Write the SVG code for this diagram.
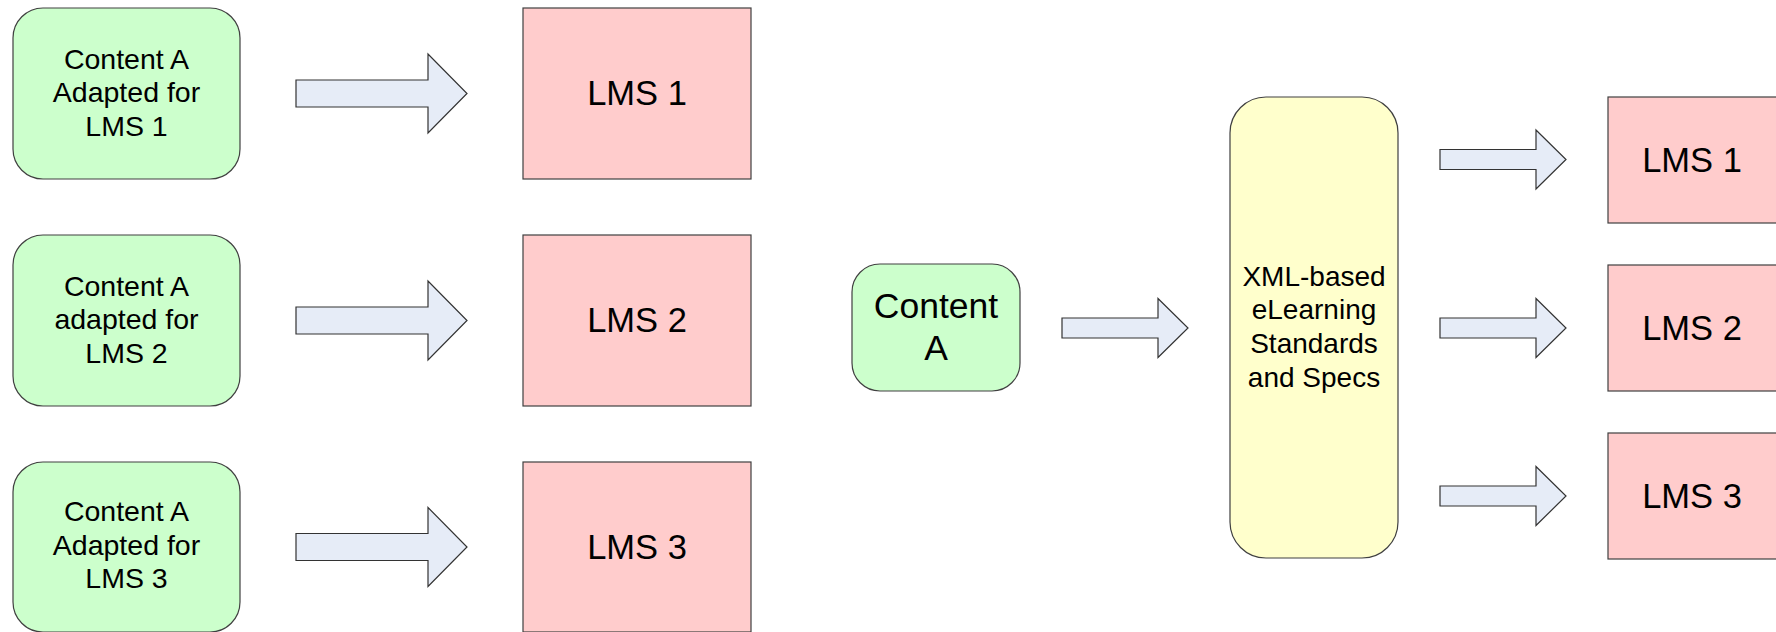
<svg xmlns="http://www.w3.org/2000/svg" xmlns:xlink="http://www.w3.org/1999/xlink" width="1776" height="632" viewBox="0 0 1776 632">
<style>
.green{fill:#CCFFCC;stroke:#404040;stroke-width:1.2}
.pink{fill:#FFCCCC;stroke:#404040;stroke-width:1.2}
.yellow{fill:#FFFFCC;stroke:#404040;stroke-width:1.2}
.arrow{fill:#E6ECF7;stroke:#333333;stroke-width:1.2;stroke-linejoin:miter}
text{font-family:"Liberation Sans",Arial,sans-serif;fill:#000;text-anchor:middle}
.t27{font-size:28.5px}
.t28{font-size:28px}
.t32{font-size:34.5px}
.t34{font-size:35.5px}
</style>
<defs>
<path id="bigArrow" d="M0,-13.5 H132 V-39.5 L171,0 L132,39.5 V13.5 H0 Z"/>
<path id="smallArrow" d="M0,-10 H96 V-29.5 L126,0 L96,29.5 V10 H0 Z"/>
</defs>
<rect width="1776" height="632" fill="#FFFFFF"/>
<g id="connectors">
<use xlink:href="#bigArrow" class="arrow" transform="translate(296,93.5)"/>
<use xlink:href="#bigArrow" class="arrow" transform="translate(296,320.5)"/>
<use xlink:href="#bigArrow" class="arrow" transform="translate(296,547)"/>
<use xlink:href="#smallArrow" class="arrow" transform="translate(1062,328)"/>
<use xlink:href="#smallArrow" class="arrow" transform="translate(1440,159.5)"/>
<use xlink:href="#smallArrow" class="arrow" transform="translate(1440,328)"/>
<use xlink:href="#smallArrow" class="arrow" transform="translate(1440,496)"/>
</g>
<g id="contentA1">
<rect class="green" x="13" y="8" width="227" height="171" rx="30" ry="30"/>
<text class="t27" x="126.5" y="68.5">Content A</text>
<text class="t27" x="126.5" y="102">Adapted for</text>
<text class="t27" x="126.5" y="135.5">LMS 1</text>
</g>
<g id="contentA2">
<rect class="green" x="13" y="235" width="227" height="171" rx="30" ry="30"/>
<text class="t27" x="126.5" y="295.5">Content A</text>
<text class="t27" x="126.5" y="329">adapted for</text>
<text class="t27" x="126.5" y="362.5">LMS 2</text>
</g>
<g id="contentA3">
<rect class="green" x="13" y="462" width="227" height="170" rx="30" ry="30"/>
<text class="t27" x="126.5" y="521">Content A</text>
<text class="t27" x="126.5" y="554.5">Adapted for</text>
<text class="t27" x="126.5" y="588">LMS 3</text>
</g>
<g id="lmsLeft1">
<rect class="pink" x="523" y="8" width="228" height="171"/>
<text class="t32" x="637" y="105">LMS 1</text>
</g>
<g id="lmsLeft2">
<rect class="pink" x="523" y="235" width="228" height="171"/>
<text class="t32" x="637" y="332">LMS 2</text>
</g>
<g id="lmsLeft3">
<rect class="pink" x="523" y="462" width="228" height="170"/>
<text class="t32" x="637" y="558.5">LMS 3</text>
</g>
<g id="contentA">
<rect class="green" x="852" y="264" width="168" height="127" rx="28" ry="28"/>
<text class="t34" x="936" y="317.5">Content</text>
<text class="t34" x="936" y="359.5">A</text>
</g>
<g id="xmlStandards">
<rect class="yellow" x="1230" y="97" width="168" height="461" rx="36" ry="36"/>
<text class="t28" x="1314" y="285.5">XML-based</text>
<text class="t28" x="1314" y="319">eLearning</text>
<text class="t28" x="1314" y="352.5">Standards</text>
<text class="t28" x="1314" y="386.5">and Specs</text>
</g>
<g id="lmsRight1">
<rect class="pink" x="1608" y="97" width="169" height="126"/>
<text class="t32" x="1692" y="172">LMS 1</text>
</g>
<g id="lmsRight2">
<rect class="pink" x="1608" y="265" width="169" height="126"/>
<text class="t32" x="1692" y="340">LMS 2</text>
</g>
<g id="lmsRight3">
<rect class="pink" x="1608" y="433" width="169" height="126"/>
<text class="t32" x="1692" y="508">LMS 3</text>
</g>
</svg>
